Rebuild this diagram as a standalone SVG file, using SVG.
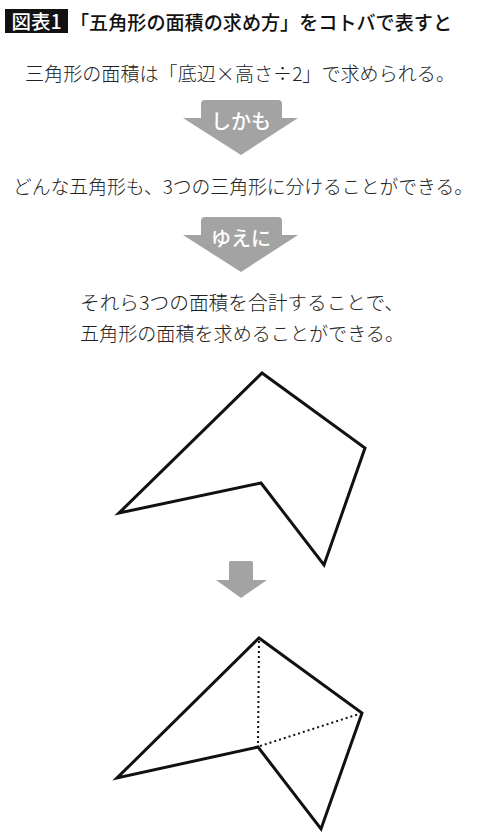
<svg xmlns="http://www.w3.org/2000/svg" width="480" height="838" viewBox="0 0 480 838">
<style>
.t{font-family:"Noto Sans CJK JP","Noto Sans",sans-serif;font-weight:300;font-size:19px;fill:#222;text-anchor:middle}
.h{font-family:"Noto Sans CJK JP","Noto Sans",sans-serif;font-weight:500;font-size:19.5px}
.a{fill:#a3a3a3}
.al{font-family:"Noto Sans CJK JP","Noto Sans",sans-serif;font-weight:500;font-size:20px;fill:#fff;text-anchor:middle}
.p{fill:none;stroke:#111;stroke-width:3;stroke-linejoin:miter}
.d{fill:none;stroke:#111;stroke-width:2;stroke-dasharray:2 3}
</style>
<rect width="480" height="838" fill="#fff"/>
<g id="title">
<rect x="5" y="9" width="63" height="24" fill="#111"/>
<text class="h" x="36.5" y="29" fill="#fff" text-anchor="middle" font-weight="700">図表1</text>
<text class="h" x="70" y="30" fill="#111" textLength="382" lengthAdjust="spacingAndGlyphs">「五角形の面積の求め方」をコトバで表すと</text>
</g>
<g id="line1"><text class="t" x="240" y="81" textLength="430" lengthAdjust="spacingAndGlyphs">三角形の面積は「底辺×高さ÷2」で求められる。</text></g>
<g id="arrow1">
<path class="a" d="M201,104 Q201,100 205,100 L278,100 Q282,100 282,104 L282,118 L298,118 L241,155 L183,118 L201,118 Z"/>
<text class="al" x="241" y="129">しかも</text>
</g>
<g id="line2"><text class="t" x="243" y="194" textLength="460" lengthAdjust="spacingAndGlyphs">どんな五角形も、3つの三角形に分けることができる。</text></g>
<g id="arrow2">
<path class="a" d="M201,221 Q201,217 205,217 L278,217 Q282,217 282,221 L282,235 L298,235 L241,272 L183,235 L201,235 Z"/>
<text class="al" x="241" y="246">ゆえに</text>
</g>
<g id="line3">
<text class="t" x="242" y="310" textLength="324" lengthAdjust="spacingAndGlyphs">それら3つの面積を合計することで、</text>
<text class="t" x="242" y="341" textLength="324" lengthAdjust="spacingAndGlyphs">五角形の面積を求めることができる。</text>
</g>
<g id="pentagon1">
<polygon class="p" points="262,373 365,448 324,565 261,483 119,513"/>
</g>
<g id="arrow3">
<path class="a" d="M229,563 Q229,561 231,561 L251,561 Q253,561 253,563 L253,580 L267,580 L241,598 L216,580 L229,580 Z"/>
</g>
<g id="pentagon2">
<polygon class="p" points="259,638 362,713 321,829 258,747 117,778"/>
</g>
<g id="connectors">
<line class="d" x1="259" y1="641" x2="258" y2="745"/>
<line class="d" x1="260" y1="746" x2="359" y2="714"/>
</g>
</svg>
